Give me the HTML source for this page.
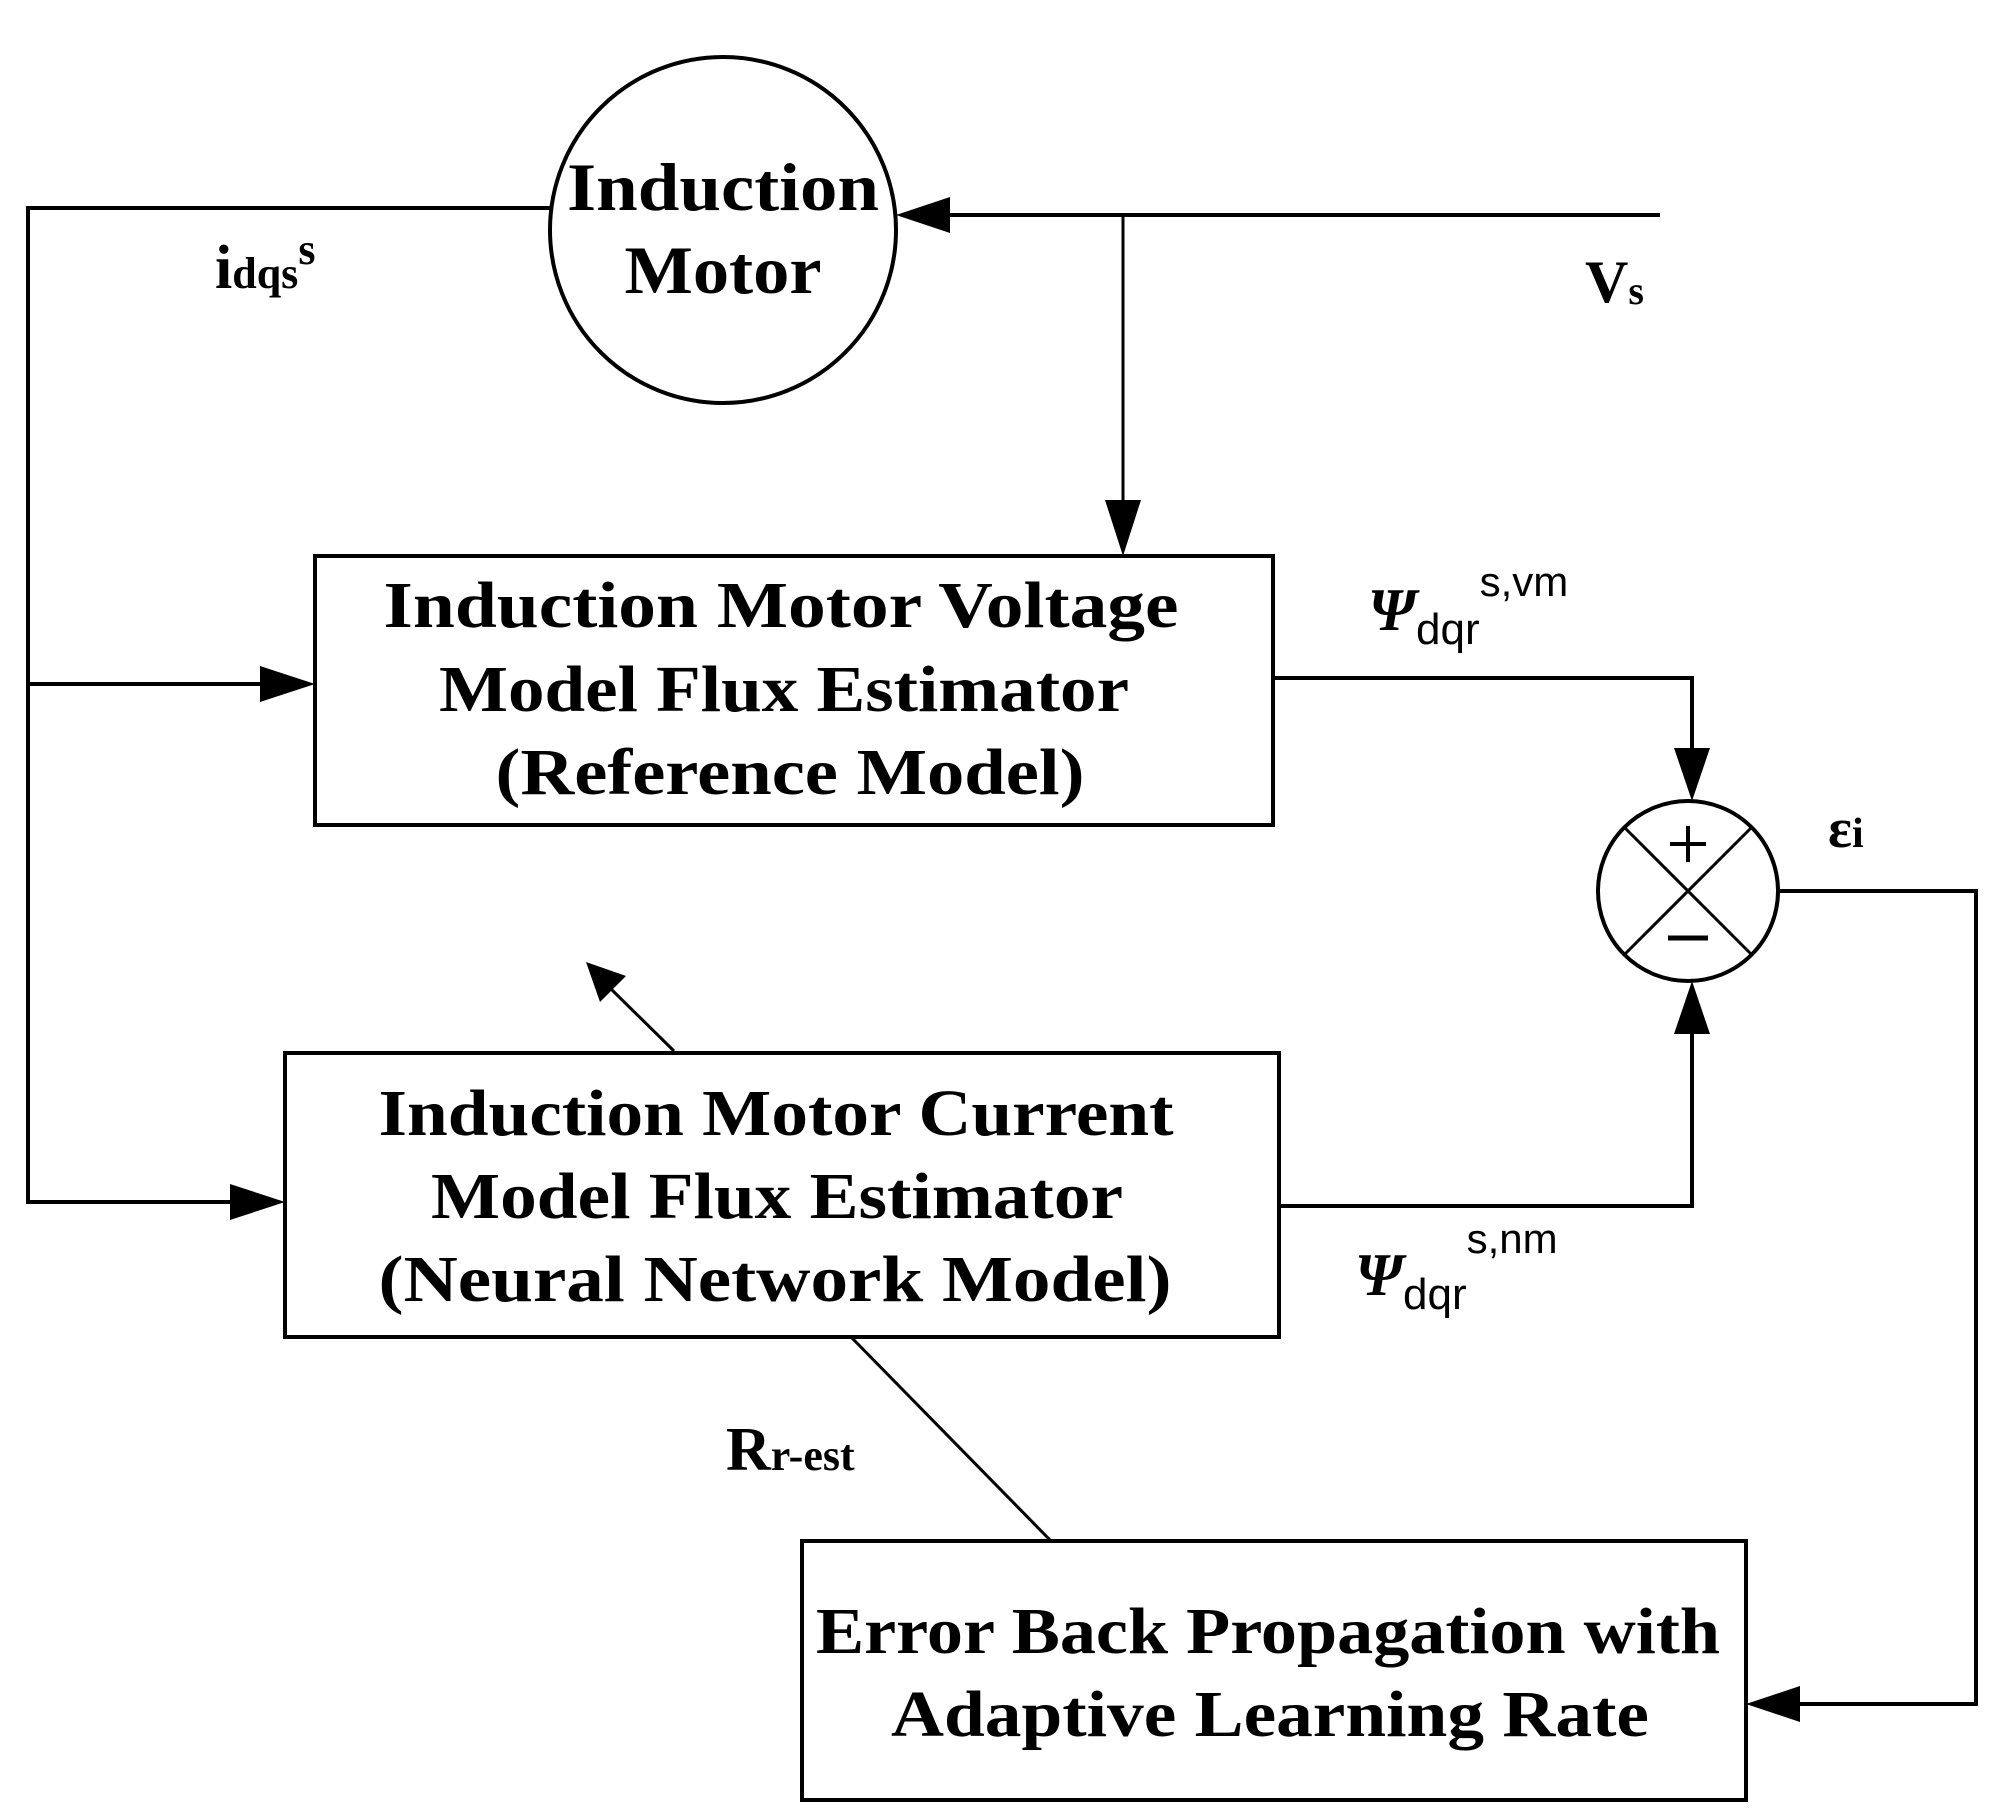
<!DOCTYPE html>
<html><head><meta charset="utf-8"><style>
html,body{margin:0;padding:0;background:#fff;}
svg{display:block;}
text{font-family:"Liberation Serif",serif;font-weight:bold;fill:#000;}
.s{font-family:"Liberation Sans",sans-serif;font-weight:normal;font-style:normal;}
</style></head><body>
<svg width="1995" height="1814" viewBox="0 0 1995 1814" xmlns="http://www.w3.org/2000/svg">
<g stroke="#000" stroke-width="4" fill="none">
<circle cx="723" cy="230" r="173"/>
<rect x="315" y="556" width="958" height="269"/>
<rect x="285" y="1053" width="994" height="284"/>
<rect x="802" y="1541" width="944" height="259"/>
<circle cx="1688" cy="891" r="90"/>
<line x1="1624" y1="827" x2="1752" y2="955" stroke-width="3"/>
<line x1="1752" y1="827" x2="1624" y2="955" stroke-width="3"/>
<polyline points="550,208 28,208 28,1202 240,1202"/>
<line x1="28" y1="684" x2="270" y2="684"/>
<line x1="1660" y1="215" x2="940" y2="215"/>
<line x1="1123" y1="215" x2="1123" y2="510" stroke-width="3"/>
<polyline points="1273,678 1692,678 1692,775"/>
<polyline points="1279,1206 1692,1206 1692,1030"/>
<polyline points="1778,891 1976,891 1976,1704 1795,1704"/>
<line x1="851" y1="1337" x2="1051" y2="1541" stroke-width="3"/>
<line x1="674" y1="1051" x2="610" y2="988" stroke-width="3"/>
<line x1="1670" y1="844" x2="1706" y2="844"/>
<line x1="1688" y1="826" x2="1688" y2="862"/>
<line x1="1668" y1="938" x2="1708" y2="938" stroke-width="5"/>
</g>
<g fill="#000">
<polygon points="896,215 950,197 950,233"/>
<polygon points="1123,556 1105,500 1141,500"/>
<polygon points="315,684 260,666 260,702"/>
<polygon points="285,1202 230,1184 230,1220"/>
<polygon points="1692,801 1674,748 1710,748"/>
<polygon points="1692,981 1674,1034 1710,1034"/>
<polygon points="1746,1704 1800,1686 1800,1722"/>
<polygon points="586,962 626,976 600,1002"/>
</g>
<g font-size="68" text-anchor="middle" lengthAdjust="spacingAndGlyphs">
<text x="723" y="210" textLength="312" lengthAdjust="spacingAndGlyphs">Induction</text>
<text x="723" y="293" textLength="197" lengthAdjust="spacingAndGlyphs">Motor</text>
</g>
<g font-size="66" text-anchor="middle">
<text x="781" y="627" textLength="795" lengthAdjust="spacingAndGlyphs">Induction Motor Voltage</text>
<text x="784" y="711" textLength="690" lengthAdjust="spacingAndGlyphs">Model Flux Estimator</text>
<text x="790" y="794" textLength="589" lengthAdjust="spacingAndGlyphs">(Reference Model)</text>
<text x="776" y="1135" textLength="795" lengthAdjust="spacingAndGlyphs">Induction Motor Current</text>
<text x="777" y="1218" textLength="692" lengthAdjust="spacingAndGlyphs">Model Flux Estimator</text>
<text x="775" y="1301" textLength="793" lengthAdjust="spacingAndGlyphs">(Neural Network Model)</text>
<text x="1268" y="1653" textLength="904" lengthAdjust="spacingAndGlyphs">Error Back Propagation with</text>
<text x="1270" y="1736" textLength="758" lengthAdjust="spacingAndGlyphs">Adaptive Learning Rate</text>
</g>
<text x="215" y="288" font-size="62">i<tspan font-size="44">dqs</tspan><tspan font-size="44" dy="-24">s</tspan></text>
<text x="1585" y="302" font-size="60">V<tspan font-size="40" dy="2">s</tspan></text>
<text x="1368" y="630" font-size="60" font-style="italic">Ψ<tspan class="s" font-size="44" dy="14">dqr</tspan><tspan class="s" font-size="42" dy="-48">s,vm</tspan></text>
<text x="1355" y="1295" font-size="60" font-style="italic">Ψ<tspan class="s" font-size="44" dy="14">dqr</tspan><tspan class="s" font-size="42" dy="-56">s,nm</tspan></text>
<text x="1828" y="847" font-size="56">ε<tspan font-size="42">i</tspan></text>
<text x="726" y="1470" font-size="62">R<tspan font-size="44">r-est</tspan></text>
</svg>
</body></html>
